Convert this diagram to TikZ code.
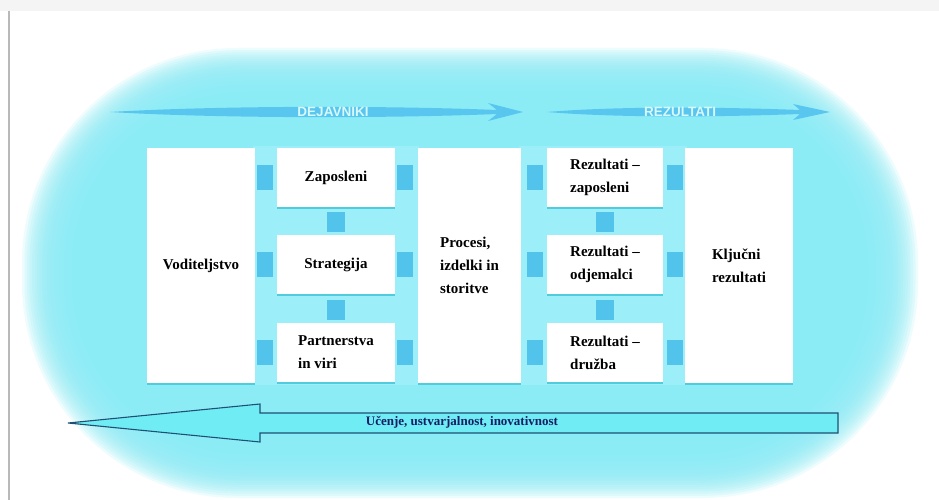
\documentclass[tikz,border=0pt]{standalone}
\usepackage{fontspec}
\setmainfont{Liberation Serif}
\newfontfamily\arrfont{Liberation Sans}
\usetikzlibrary{shadows}
\definecolor{bgc}{RGB}{140,236,246}
\definecolor{gapc}{RGB}{156,239,248}
\definecolor{sqc}{RGB}{82,196,236}
\definecolor{arrc}{RGB}{88,198,238}
\definecolor{arrtxt}{RGB}{215,248,252}
\definecolor{botfill}{RGB}{112,236,244}
\definecolor{botline}{RGB}{30,80,115}
\definecolor{bottxt}{RGB}{20,30,100}
\definecolor{shadc}{RGB}{80,205,220}
\definecolor{framec}{RGB}{185,185,185}
\definecolor{topstrip}{RGB}{244,244,244}
\begin{document}
\begin{tikzpicture}[x=1pt,y=-1pt,
  box/.style={fill=white, inner sep=0pt, align=left,
    font=\fontsize{15}{23}\selectfont\bfseries,
    general shadow={fill=shadc, shadow yshift=-2pt, shadow xshift=0pt}},
  tallbox/.style={box, minimum height=235pt},
  smallbox/.style={box, minimum height=59pt},
  sqlink/.style={draw=sqc, line cap=butt},
  hsq/.style={sqlink, line width=25pt},
  vsq/.style={sqlink, line width=18pt},
  arrtext/.style={text=arrtxt, font=\arrfont\bfseries\fontsize{13.5}{14}\selectfont, inner sep=0pt},
  bottext/.style={text=bottxt, font=\fontsize{13}{14}\selectfont\bfseries, inner sep=0pt}
]
\useasboundingbox (0,0) rectangle (939,500);
\fill[white] (0,0) rectangle (939,500);
\fill[topstrip] (0,0) rectangle (939,11);
\draw[framec, line width=1.5pt] (9,11) -- (9,500);

% soft cyan glow
\foreach \i in {0,...,19}{
  \fill[bgc, opacity=0.15, rounded corners={(215-2*\i)*1pt}] ({22+2.5*\i},{48+2.2*\i}) rectangle ({918-2.5*\i},{498-2.2*\i});
}
\fill[bgc, rounded corners=175pt] (72,92) rectangle (868,454);

% lighter gap bands
\fill[gapc] (253,146) rectangle (419,385);
\fill[gapc] (519,146) rectangle (687,385);

% top arrows
\fill[arrc] (110,112) .. controls (230,105) and (400,106) .. (497,110) -- (488,103) -- (523,112) -- (488,121) -- (497,114) .. controls (400,118) and (230,119) .. (110,112) -- cycle;
\node[arrtext] (dej) at (333,112) {DEJAVNIKI};
\fill[arrc] (547,112) .. controls (620,106) and (720,107) .. (800,110) -- (793,104) -- (830,112) -- (793,120) -- (800,114) .. controls (720,117) and (620,118) .. (547,112) -- cycle;
\node[arrtext] (rez) at (680,112) {REZULTATI};

% boxes
\node[tallbox, minimum width=108pt] (vod) at (201,265.5) {Voditeljstvo};
\node[smallbox, minimum width=118pt] (zap) at (336,177.5) {Zaposleni};
\node[smallbox, minimum width=118pt] (str) at (336,264.5) {Strategija};
\node[smallbox, minimum width=118pt] (par) at (336,352.5) {Partnerstva\\in viri};
\node[tallbox, minimum width=103pt] (pro) at (469.5,265.5) {Procesi,\\izdelki in\\storitve};
\node[smallbox, minimum width=116pt] (rza) at (605,177.5) {Rezultati –\\zaposleni};
\node[smallbox, minimum width=116pt] (rod) at (605,264.5) {Rezultati –\\odjemalci};
\node[smallbox, minimum width=116pt] (rdr) at (605,352.5) {Rezultati –\\družba};
\node[tallbox, minimum width=108pt] (klj) at (739,265.5) {Ključni\\rezultati};

% square connectors
\foreach \m/\r in {zap/rza, str/rod, par/rdr}{
  \draw[hsq, shorten <=2pt, shorten >=4pt] (vod.east |- \m.west) -- (\m.west);
  \draw[hsq, shorten <=2pt, shorten >=5pt] (\m.east) -- (pro.west |- \m.east);
  \draw[hsq, shorten <=6pt, shorten >=4pt] (pro.east |- \r.west) -- (\r.west);
  \draw[hsq, shorten <=4pt, shorten >=2pt] (\r.east) -- (klj.west |- \r.east);
}
\draw[vsq, shorten <=5pt, shorten >=3pt] (zap.south) -- (str.north);
\draw[vsq, shorten <=6pt, shorten >=3pt] (str.south) -- (par.north);
\draw[vsq, shorten <=5pt, shorten >=3pt] (rza.south) -- (rod.north);
\draw[vsq, shorten <=6pt, shorten >=3pt] (rod.south) -- (rdr.north);

% bottom arrow
\draw[botline, fill=botfill, line width=1.1pt, line join=miter] (838,413) -- (260,413) -- (260,404) -- (68,423) -- (260,442) -- (260,433) -- (838,433) -- cycle;
\node[bottext] (learn) at (462,422) {Učenje, ustvarjalnost, inovativnost};
\end{tikzpicture}
\end{document}
